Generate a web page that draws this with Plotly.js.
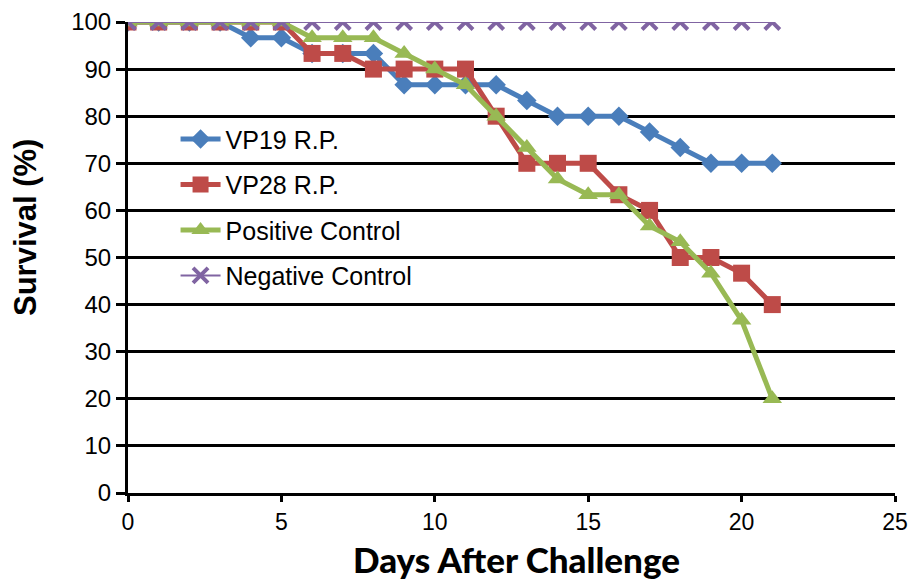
<!DOCTYPE html>
<html>
<head>
<meta charset="utf-8">
<script src="https://cdn.plot.ly/plotly-3.0.1.min.js"></script>
<style>html,body{margin:0;padding:0;background:#fff;}#chart{width:910px;height:582px;}</style>
</head>
<body>
<div id="chart"></div>
<script>
const days = [0,1,2,3,4,5,6,7,8,9,10,11,12,13,14,15,16,17,18,19,20,21];
const vp19 = [100,100,100,100,96.67,96.67,93.33,93.33,93.33,86.67,86.67,86.67,86.67,83.33,80,80,80,76.67,73.33,70,70,70];
const vp28 = [100,100,100,100,100,100,93.33,93.33,90,90,90,90,80,70,70,70,63.33,60,50,50,46.67,40];
const posControl = [100,100,100,100,100,100,96.67,96.67,96.67,93.33,90,86.67,80,73.33,66.67,63.33,63.33,56.67,53.33,46.67,36.67,20];
const negControl = [100,100,100,100,100,100,100,100,100,100,100,100,100,100,100,100,100,100,100,100,100,100];
const seriesNames = ["VP19 R.P.","VP28 R.P.","Positive Control","Negative Control"];
const yTitle = "Survival (%)";
const xTitle = "Days After Challenge";
const colors = ["#4a7ebb","#be4b48","#98b954","#8064a2"];
const symbols = ["diamond","square","triangle-up","x-thin-open"];
const sizes = [15,17,17,15];
const values = [vp19, vp28, posControl, negControl];

const traces = values.map((v,i)=>({
  x: days, y: v, name: seriesNames[i], type: "scatter", mode: "lines+markers",
  legendgroup: "g"+i,
  line: {color: colors[i], width: i===3 ? 2 : 5},
  marker: {symbol: symbols[i], size: sizes[i], color: colors[i], line: {color: colors[i], width: i===3 ? 4 : 0}}
}));

const layout = {
  width: 910, height: 582,
  margin: {l: 128, r: 15, t: 22, b: 89},
  paper_bgcolor: "#fff", plot_bgcolor: "#fff",
  showlegend: true,
  legend: {x: 0.062, y: 0.80, xanchor: "left", yanchor: "top", bgcolor: "rgba(0,0,0,0)",
    font: {family: "Liberation Sans, Arial, sans-serif", size: 25, color: "#000"},
    traceorder: "grouped", tracegroupgap: 10, itemwidth: 40},
  xaxis: {range: [0, 25], dtick: 5, tick0: 0, showgrid: false, zeroline: false,
    showline: true, linecolor: "#000", linewidth: 3,
    ticks: "outside", ticklen: 6, tickwidth: 3, tickcolor: "#000",
    tickfont: {family: "Liberation Sans, Arial, sans-serif", size: 23, color: "#000"}},
  yaxis: {range: [0, 100], dtick: 10, tick0: 0, showgrid: true, gridcolor: "#000", gridwidth: 3,
    zeroline: false, showline: true, linecolor: "#000", linewidth: 3,
    ticks: "outside", ticklen: 9, tickwidth: 3, tickcolor: "#000",
    tickfont: {family: "Liberation Sans, Arial, sans-serif", size: 24, color: "#000"}},
  annotations: [
    {text: yTitle, xref: "paper", yref: "paper", x: -103/767, y: (493-228)/471,
     xanchor: "center", yanchor: "middle", textangle: -90, showarrow: false,
     font: {family: "Liberation Sans, Arial, sans-serif", size: 31, color: "#000", weight: 700}},
    {text: xTitle, xref: "paper", yref: "paper", x: (516-128)/767, y: -(559-493)/471,
     xanchor: "center", yanchor: "middle", showarrow: false,
     font: {family: "Lato, sans-serif", size: 35, color: "#000", weight: 900}}
  ]
};
Plotly.newPlot("chart", traces, layout, {displayModeBar: false, staticPlot: true});
</script>
</body>
</html>
